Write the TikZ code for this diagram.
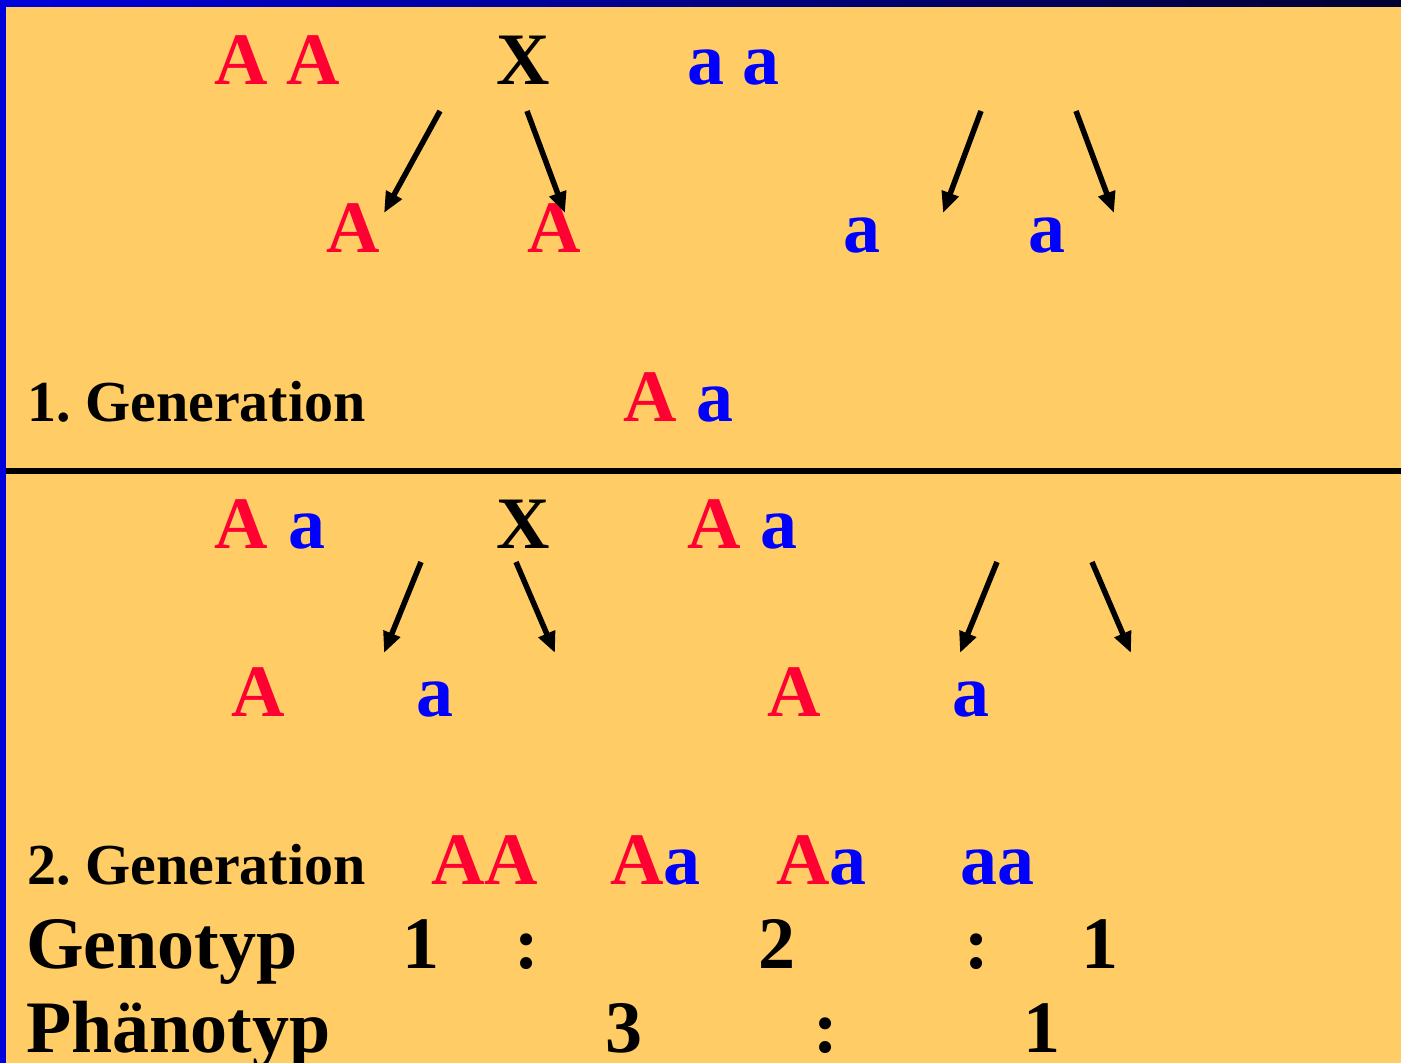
\documentclass[tikz,border=0pt]{standalone}
\usepackage{fontspec}
\setmainfont{Liberation Serif}
\usetikzlibrary{arrows.meta}
\frenchspacing
\definecolor{panel}{HTML}{FFCC66}
\definecolor{allelered}{HTML}{FF0033}
\definecolor{alleleblue}{HTML}{0000FF}
\definecolor{frameblue}{HTML}{0000DD}
\definecolor{framedark}{HTML}{000030}
\tikzset{
  big/.style={anchor=base west, inner sep=0pt, font=\fontsize{74}{80}\selectfont\bfseries},
  gen/.style={anchor=base west, inner sep=0pt, font=\fontsize{58}{64}\selectfont\bfseries},
  dom/.style={big, text=allelered},
  rec/.style={big, text=alleleblue},
  meiosis/.style={line width=5.5pt, -{Triangle[length=21pt,width=17pt]}},
}
\begin{document}
\begin{tikzpicture}[x=1pt,y=-1pt]
  % background and frame
  \fill[panel] (0,0) rectangle (1401,1063);
  \useasboundingbox (0,0) rectangle (1401,1063);
  \shade[left color=frameblue, right color=framedark] (0,0) rectangle (1401,6);
  \fill[frameblue] (0,0) rectangle (6,1063);
  \fill[black] (6,468) rectangle (1401,474);

  % parental cross
  \node[dom] (p1) at (214,84) {A A};
  \node[big] (x1) at (496,84) {X};
  \node[rec] (p2) at (687,84) {a a};
  \node[dom] (g1) at (326,252) {A};
  \node[dom] (g2) at (527,252) {A};
  \node[rec] (g3) at (843,252) {a};
  \node[rec] (g4) at (1028,252) {a};
  \coordinate (t1) at (440,111); \coordinate (h1) at (384,213);
  \coordinate (t2) at (527,111); \coordinate (h2) at (565,213);
  \coordinate (t3) at (981,111); \coordinate (h3) at (943,213);
  \coordinate (t4) at (1076,111); \coordinate (h4) at (1114,213);
  \draw[meiosis] (t1) -- (h1);
  \draw[meiosis] (t2) -- (h2);
  \draw[meiosis] (t3) -- (h3);
  \draw[meiosis] (t4) -- (h4);

  % first generation
  \node[gen] (f1) at (27,421) {1. Generation};
  \node[dom] (f1A) at (623,421) {A};
  \node[rec] (f1a) at (696,421) {a};

  % F1 cross
  \node[dom] (q1A) at (214,548) {A};
  \node[rec] (q1a) at (288,548) {a};
  \node[big] (x2) at (496,548) {X};
  \node[dom] (q2A) at (687,548) {A};
  \node[rec] (q2a) at (760,548) {a};
  \node[dom] (k1) at (231,716) {A};
  \node[rec] (k2) at (416,716) {a};
  \node[dom] (k3) at (767,716) {A};
  \node[rec] (k4) at (952,716) {a};
  \coordinate (u1) at (421,562); \coordinate (v1) at (384,653);
  \coordinate (u2) at (516,562); \coordinate (v2) at (555,653);
  \coordinate (u3) at (997,562); \coordinate (v3) at (960,653);
  \coordinate (u4) at (1092,562); \coordinate (v4) at (1131,653);
  \draw[meiosis] (u1) -- (v1);
  \draw[meiosis] (u2) -- (v2);
  \draw[meiosis] (u3) -- (v3);
  \draw[meiosis] (u4) -- (v4);

  % second generation
  \node[gen] (f2) at (27,884) {2. Generation};
  \node[dom] (c1) at (431,884) {AA};
  \node[big] (c2) at (610,884) {\textcolor{allelered}{A}\textcolor{alleleblue}{a}};
  \node[big] (c3) at (776,884) {\textcolor{allelered}{A}\textcolor{alleleblue}{a}};
  \node[rec] (c4) at (960,884) {aa};

  % ratios
  \node[big] (geno) at (26,968) {Genotyp};
  \node[big] (r1) at (402,968) {1};
  \node[big] (r2) at (514,968) {:};
  \node[big] (r3) at (758,968) {2};
  \node[big] (r4) at (964,968) {:};
  \node[big] (r5) at (1081,968) {1};
  \node[big] (pheno) at (26,1052) {Phänotyp};
  \node[big] (s1) at (605,1052) {3};
  \node[big] (s2) at (813,1052) {:};
  \node[big] (s3) at (1023,1052) {1};
\end{tikzpicture}
\end{document}
